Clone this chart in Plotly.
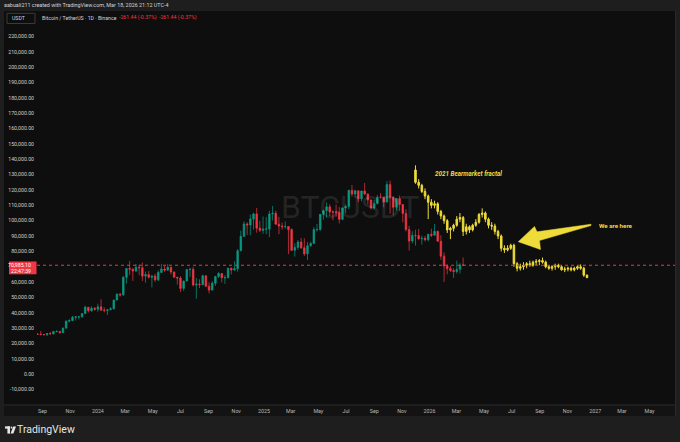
import pandas as pd
import plotly.graph_objects as go

# ---------------- data ----------------
btc_start = "2023-08-21"   # weekly candles (Monday starts)
btc_open = [26100, 26000, 25800, 25800, 26500, 26300, 27900, 27900, 27100, 30000, 34500, 35000, 37100, 37400, 37450,
            39500, 43700, 41400, 43000, 42300, 43900, 41700, 41600, 42000, 42600, 48300, 52100, 51700, 63100, 68900,
            68400, 67200, 69700, 69400, 63900, 64900, 63100, 63900, 61500, 66300, 68500, 67800, 69600, 66600, 63200,
            62700, 55900, 60700, 68200, 68300, 58100, 58700, 58400, 64100, 57300, 54800, 59200, 63600, 65600, 62800,
            62900, 69000, 67900, 68700, 80400, 89800, 97900, 97200, 101100, 104400, 95100, 93700, 94500, 94600, 104400,
            104800, 97700, 96500, 96100, 96200, 94200, 80700, 82600, 86100, 82400, 78400, 83700, 85200, 94200, 94300,
            104100, 106500, 109000, 105700, 105600, 105500, 100900, 108300, 109200, 119800, 117300, 119400, 114200, 119300, 117400,
            113500, 108300, 111100, 115300, 115200, 112100, 123500, 115200, 108700, 114500, 110500, 104700, 94200, 86800, 90400,
            90300, 88200, 88500, 87600, 91200, 90500, 93100, 86600, 76900, 70500, 68800, 67600, 66900, 68400, 71200]
btc_high = [26800, 28100, 26100, 26900, 27500, 28000, 28600, 28000, 30500, 35200, 35900, 37900, 37900, 38000, 39800,
            44700, 43800, 44300, 43800, 45900, 48900, 43600, 42200, 43800, 48500, 52800, 52900, 64000, 69000, 73800,
            68900, 71800, 71300, 72800, 66900, 67200, 64700, 65500, 67700, 71900, 70600, 71900, 70200, 66900, 63300,
            63800, 61000, 68300, 69400, 70000, 62700, 61800, 64900, 64400, 59800, 60600, 64100, 66500, 65800, 64500,
            69400, 69500, 73600, 81500, 93500, 99600, 98900, 104000, 105200, 108300, 99900, 102700, 102300, 106400, 109600,
            106500, 102500, 98800, 99500, 96500, 95000, 85300, 87400, 88800, 88500, 86100, 86400, 95800, 97900, 104300,
            107100, 111900, 110700, 106800, 110500, 108900, 108500, 110500, 119900, 123200, 120200, 119800, 119500, 124500, 117600,
            113600, 113400, 116800, 117900, 115400, 125700, 126200, 115900, 114600, 116400, 110700, 107500, 96600, 93100, 94100,
            94600, 90300, 90000, 91300, 94800, 97900, 93400, 90500, 79300, 71500, 70500, 69000, 74000, 72500, 76000]
btc_low = [25800, 25600, 25300, 24900, 26000, 26000, 27200, 26500, 26900, 30000, 33900, 34500, 35000, 35700, 36700,
           39500, 40200, 40600, 41400, 40700, 41500, 40300, 38500, 41800, 42300, 48200, 50600, 51000, 59000, 64500,
           60800, 66600, 64500, 60700, 59600, 62400, 56500, 60200, 60700, 66100, 66700, 67500, 65000, 63000, 58400,
           53500, 54300, 60600, 63400, 57200, 49100, 56100, 57800, 57200, 52600, 54600, 57500, 62700, 59800, 58900,
           62400, 65000, 67500, 66800, 80300, 89400, 90800, 90500, 94200, 92200, 92500, 91500, 91200, 89300, 100000,
           97500, 91200, 94100, 94800, 78200, 80400, 76600, 81100, 81600, 77100, 74400, 83100, 85100, 92800, 93300,
           100700, 102000, 103100, 100300, 102600, 98200, 100300, 105100, 107500, 115700, 114700, 112000, 112600, 116800, 110600,
           107300, 107300, 110600, 114500, 108700, 111800, 104500, 103500, 106600, 106300, 98900, 93000, 80600, 85300, 83800,
           87600, 84400, 86500, 86600, 89300, 90300, 86500, 74500, 60100, 65100, 66500, 62800, 65500, 65600, 70600]
btc_close = [26000, 25800, 25800, 26500, 26300, 27900, 27900, 27100, 30000, 34500, 35000, 37100, 37400, 37450, 39500,
             43700, 41400, 43000, 42300, 43900, 41700, 41600, 42000, 42600, 48300, 52100, 51700, 63100, 68900, 68400,
             67200, 69700, 69400, 63900, 64900, 63100, 63900, 61500, 66300, 68500, 67800, 69600, 66600, 63200, 62700,
             55900, 60700, 68200, 68300, 58100, 58700, 58400, 64100, 57300, 54800, 59200, 63600, 65600, 62800, 62900,
             69000, 67900, 68700, 80400, 89800, 97900, 97200, 101100, 104400, 95100, 93700, 94500, 94600, 104400, 104800,
             97700, 96500, 96100, 96200, 94200, 80700, 82600, 86100, 82400, 78400, 83700, 85200, 94200, 94300, 104100,
             106500, 109000, 105700, 105600, 105500, 100900, 108300, 109200, 119800, 117300, 119400, 114200, 119300, 117400, 113500,
             108300, 111100, 115300, 115200, 112100, 123500, 115200, 108700, 114500, 110500, 104700, 94200, 86800, 90400, 90300,
             88200, 88500, 87600, 91200, 90500, 93100, 86600, 76900, 70500, 68800, 67600, 66900, 68400, 71200, 70985.10]

frac_start = "2025-12-01"  # 2021 bear-market fractal, weekly
frac_open = [133000, 125000, 123000, 119000, 116000, 112000, 110000, 111000, 106000, 103000, 100000, 94000, 95000, 97000,
             101000, 102000, 93000, 96000, 94000, 97000, 99000, 104000, 105000, 101000, 97000, 96500, 93000, 90000, 82000,
             81000, 82000, 84000, 72000, 69000, 70000, 71000, 72000, 71000, 73000, 73500, 74000, 73000, 70000, 69000,
             70000, 71000, 70000, 68000, 68500, 69000, 68000, 69000, 70000, 69000, 64500]
frac_high = [136000, 127000, 124000, 121000, 117000, 114000, 113000, 112000, 107000, 104000, 101000, 96000, 98000, 103000,
             105000, 103000, 98000, 97000, 98000, 101000, 105000, 108000, 106000, 102000, 99000, 98000, 94000, 91000, 84000,
             84000, 85000, 85000, 73000, 72000, 73000, 73000, 74000, 74000, 75000, 75000, 76000, 74000, 71000, 71000,
             72000, 72000, 71000, 70000, 70000, 70000, 70000, 71000, 71500, 70000, 65000]
frac_low = [124000, 121000, 118000, 114000, 101000, 108000, 108000, 104000, 101000, 98000, 92000, 88000, 93000, 96000,
            99000, 90000, 91000, 92000, 93000, 96000, 98000, 102000, 99000, 95000, 94000, 91000, 88000, 80000, 79000,
            80000, 81000, 70000, 67000, 67500, 68000, 69000, 70000, 70000, 71000, 71000, 72000, 69000, 68000, 67500,
            68000, 69000, 67500, 66500, 67000, 67000, 67000, 68000, 68000, 63500, 62500]
frac_close = [125000, 123000, 119000, 116000, 112000, 110000, 111000, 106000, 103000, 100000, 94000, 95000, 97000, 101000,
              102000, 93000, 96000, 94000, 97000, 99000, 104000, 105000, 101000, 97000, 96500, 93000, 90000, 82000, 81000,
              82000, 84000, 72000, 69000, 70000, 71000, 72000, 71000, 73000, 73500, 74000, 73000, 70000, 69000, 70000,
              71000, 70000, 68000, 68500, 69000, 68000, 69000, 70000, 69000, 64500, 63000]

x_tick_dates = ["2023-09-01", "2023-11-01", "2024-01-01", "2024-03-01", "2024-05-01", "2024-07-01", "2024-09-01",
                "2024-11-01", "2025-01-01", "2025-03-01", "2025-05-01", "2025-07-01", "2025-09-01", "2025-11-01",
                "2026-01-01", "2026-03-01", "2026-05-01", "2026-07-01", "2026-09-01", "2026-11-01", "2027-01-01",
                "2027-03-01", "2027-05-01"]
x_tick_text = ["Sep", "Nov", "2024", "Mar", "May", "Jul", "Sep", "Nov", "2025", "Mar", "May", "Jul", "Sep", "Nov",
               "2026", "Mar", "May", "Jul", "Sep", "Nov", "2027", "Mar", "May"]
y_tick_vals = [v for v in range(-10000, 230000, 10000) if v != 70000]
y_tick_text = [f"{v:,.2f}" for v in y_tick_vals]

# ---------------- layout helpers ----------------
W, H = 680, 442
L, R, T, B = 37, 675, 11, 405
def px(x): return (x - L) / (R - L)
def py(y): return (B - y) / (B - T)

FONT = "Roboto, Liberation Sans, Arial, sans-serif"
GREEN, RED, YEL = "#089981", "#f23645", "#efdc3a"
PANE = "#0e0e0e"

btc_dates = pd.date_range(btc_start, periods=len(btc_close), freq="7D")
frac_dates = pd.date_range(frac_start, periods=len(frac_close), freq="7D")

fig = go.Figure()
fig.add_trace(go.Candlestick(
    x=btc_dates, open=btc_open, high=btc_high, low=btc_low, close=btc_close,
    increasing=dict(line=dict(color=GREEN, width=0.7), fillcolor=GREEN),
    decreasing=dict(line=dict(color=RED, width=0.7), fillcolor=RED),
    whiskerwidth=0, hoverinfo="skip", name="BTCUSDT"))
fig.add_trace(go.Candlestick(
    x=frac_dates, open=frac_open, high=frac_high, low=frac_low, close=frac_close,
    increasing=dict(line=dict(color=YEL, width=1), fillcolor=YEL),
    decreasing=dict(line=dict(color=YEL, width=1), fillcolor=YEL),
    whiskerwidth=0, hoverinfo="skip", name="fractal"))

shapes = []
shapes.append(dict(type="rect", xref="paper", yref="paper", x0=px(4), x1=px(676), y0=py(416), y1=py(11),
                   fillcolor=PANE, line=dict(width=0), layer="below"))
shapes.append(dict(type="rect", xref="paper", yref="paper", x0=px(4), x1=px(676), y0=py(416), y1=py(405),
                   fillcolor="#131313", line=dict(width=0), layer="below"))
shapes.append(dict(type="line", xref="paper", yref="paper", x0=px(4), x1=px(676), y0=py(405), y1=py(405),
                   line=dict(color="#2a2a2a", width=1), layer="below"))
shapes.append(dict(type="line", xref="paper", yref="paper", x0=px(675.5), x1=px(675.5), y0=py(416), y1=py(11),
                   line=dict(color="#2a2a2a", width=1), layer="below"))
shapes.append(dict(type="line", xref="paper", yref="y", x0=0, x1=1, y0=btc_close[-1], y1=btc_close[-1],
                   line=dict(color=RED, width=1, dash="dot"), layer="above"))
shapes.append(dict(type="rect", xref="paper", yref="paper", x0=px(9), x1=px(36.5), y0=py(274.3), y1=py(261.5),
                   fillcolor=RED, line=dict(width=0), layer="above"))
shapes.append(dict(type="rect", xref="paper", yref="paper", x0=px(7), x1=px(35), y0=py(23.5), y1=py(13.3),
                   fillcolor=PANE, line=dict(color="#3a3a3a", width=1), layer="above"))
pts = [(518.3, 241.7), (534.5, 226.5), (537, 231.8), (591, 224.2), (591, 225.6), (539.5, 240.5), (540.5, 249.5)]
path = "M " + " L ".join(f"{px(x):.5f},{py(y):.5f}" for x, y in pts) + " Z"
shapes.append(dict(type="path", xref="paper", yref="paper", path=path, fillcolor=YEL, line=dict(color=YEL, width=0.5),
                   layer="above"))
shapes.append(dict(type="rect", xref="paper", yref="paper", x0=px(5), x1=px(10), y0=py(428.6), y1=py(426.4),
                   fillcolor="#e6e6e6", line=dict(width=0), layer="above"))
shapes.append(dict(type="rect", xref="paper", yref="paper", x0=px(7.4), x1=px(10), y0=py(433.6), y1=py(426.4),
                   fillcolor="#e6e6e6", line=dict(width=0), layer="above"))
shapes.append(dict(type="circle", xref="paper", yref="paper", x0=px(10.6), x1=px(12.4), y0=py(428.4), y1=py(426.6),
                   fillcolor="#e6e6e6", line=dict(width=0), layer="above"))
shapes.append(dict(type="path", xref="paper", yref="paper",
                   path=f"M {px(13.2)},{py(426.4)} L {px(16)},{py(426.4)} L {px(13.4)},{py(433.6)} L {px(10.6)},{py(433.6)} Z",
                   fillcolor="#e6e6e6", line=dict(width=0), layer="above"))

ann = []
def text(x, y, s, size=5.3, color="#d1d4dc", xanchor="left", **kw):
    ann.append(dict(x=px(x), y=py(y), xref="paper", yref="paper", text=s, showarrow=False, xanchor=xanchor,
                    yanchor="middle", font=dict(family=FONT, size=size, color=color), **kw))

text(350, 206.5, "BTCUSDT", size=32, color="rgba(255,255,255,0.10)", xanchor="center")
text(1.5, 5, "aabuali211 created with TradingView.com, Mar 18, 2026 21:12 UTC-4", size=5.4)
text(10, 18.4, "USDT", size=5.2)
text(39.5, 17.6, "Bitcoin / TetherUS · 1D · Binance", size=5.2)
text(116.5, 17.6, "-261.44 (-0.37%)", size=5.2, color=RED)
text(156.5, 17.6, "-261.44 (-0.37%)", size=5.2, color=RED)
text(33, 265.3, f"{btc_close[-1]:,.2f}", size=5.2, color="#ffffff", xanchor="right")
text(33, 271, "22:47:39", size=5.2, color="#ffffff", xanchor="right")
text(433, 174.3, "<b><i>2021 Bearmarket fractal</i></b>", size=6.3, color=YEL)
text(596.5, 225.7, "<b>We are here</b>", size=6.2, color=YEL)
text(15, 429.5, "TradingView", size=10.5, color="#e6e6e6")

fig.update_layout(
    width=W, height=H,
    margin=dict(l=L, r=W - R, t=T, b=H - B, pad=0),
    paper_bgcolor="#1e1e1e", plot_bgcolor=PANE,
    showlegend=False, shapes=shapes, annotations=ann,
    font=dict(family=FONT, size=5.3, color="#c8c8c8"),
    xaxis=dict(type="date", range=["2023-08-19 19:00", "2027-06-26"], rangeslider=dict(visible=False),
               tickvals=x_tick_dates, ticktext=x_tick_text, showgrid=False, zeroline=False, showline=False,
               ticks="", ticklabelstandoff=2, tickfont=dict(size=5.3, color="#b8b8b8"), fixedrange=True),
    yaxis=dict(range=[-20000, 236500], side="left", tickvals=y_tick_vals, ticktext=y_tick_text,
               showgrid=False, zeroline=False, showline=False, ticks="", ticklabelstandoff=2,
               tickfont=dict(size=5.2, color="#d0d0d0"), fixedrange=True),
)
fig.write_html("out.html", config={"displayModeBar": False},
               post_script="document.body.style.margin='0px';document.body.style.background='#1e1e1e';")
